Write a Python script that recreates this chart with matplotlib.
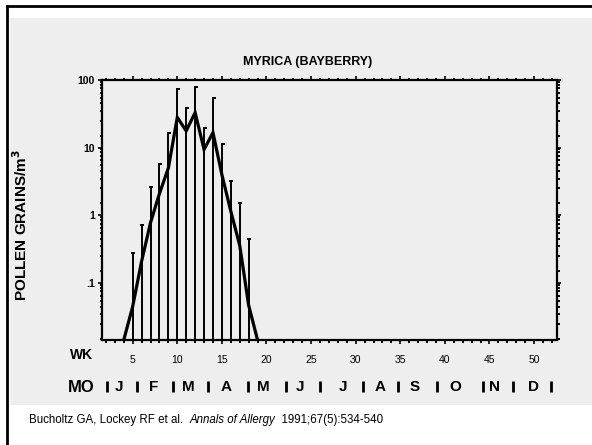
import matplotlib.pyplot as plt
import matplotlib.transforms as mtransforms
import numpy as np
from matplotlib.patches import Rectangle
from matplotlib.ticker import LogLocator, NullFormatter

# weekly pollen counts (grains/m3), week 4 and 19 are zero
weeks = np.arange(4, 20)
mean_count = [0, 0.045, 0.21, 0.78, 2.1, 5.0, 28, 17.7, 33, 9.4, 16.7, 4.0, 1.15, 0.36, 0.047, 0]
upper_count = [0, 0.28, 0.71, 2.6, 5.8, 16.7, 73, 38, 78, 19.8, 54, 11.5, 3.2, 1.5, 0.44, 0]

week_ticks = np.arange(5, 55, 5)
ytick_vals = [0.1, 1, 10, 100]
ytick_labels = [".1", "1", "10", "100"]

month_letters = ["J", "F", "M", "A", "M", "J", "J", "A", "S", "O", "N", "D"]
month_mid = [3.5, 7.4, 11.2, 15.5, 19.7, 23.8, 28.6, 32.7, 36.6, 41.2, 45.6, 49.9]
month_sep = [2.1, 5.5, 9.5, 13.4, 17.9, 22.2, 26.0, 30.8, 34.7, 39.1, 44.3, 47.6, 51.9]

plt.rcParams["font.family"] = ["Liberation Sans", "DejaVu Sans"]

W, H = 592, 445
fig = plt.figure(figsize=(W / 100, H / 100), dpi=100)
fig.patch.set_facecolor("white")

# scanned page area + frame
fig.patches.append(Rectangle((10 / W, 1 - 405 / H), 1, (405 - 18) / H,
                             transform=fig.transFigure, facecolor="#eeeeee",
                             edgecolor="none", zorder=-5))
fig.add_artist(plt.Line2D([7 / W, 1], [1 - 6 / H, 1 - 6 / H], color="black", lw=2.0))
fig.add_artist(plt.Line2D([7 / W, 7 / W], [0, 1 - 6 / H], color="black", lw=2.0))

ymin, ymax = 0.0144, 100
xmin, xmax = 1.56, 52.57

ax = fig.add_axes([102 / W, 1 - 340 / H, (557 - 102) / W, (340 - 80) / H])
ax.set_zorder(2)
ax.set_facecolor("none")
ax.set_yscale("log")
ax.set_xlim(xmin, xmax)
ax.set_ylim(ymin, ymax)

mean_arr = np.array(mean_count, dtype=float)
upper_arr = np.array(upper_count, dtype=float)
plot_mean = np.where(mean_arr > 0, mean_arr, ymin)
ax.plot(weeks, plot_mean, color="black", lw=2.3, solid_joinstyle="miter", zorder=3)

has = upper_arr > 0
ax.vlines(weeks[has], ymin, upper_arr[has], color="black", lw=1.4, zorder=2)
ax.hlines(upper_arr[has], weeks[has] - 0.15, weeks[has] + 0.3, color="black", lw=1.4, zorder=2)

for s in ax.spines.values():
    s.set_linewidth(1.6)

ax.set_xticks(week_ticks)
ax.set_xticklabels([str(w) for w in week_ticks], fontsize=7.5)
ax.set_xticks(np.arange(2, 53), minor=True)
ax.set_yticks(ytick_vals)
ax.set_yticklabels(ytick_labels, fontsize=7.5, fontweight="bold")
ax.yaxis.set_minor_locator(LogLocator(base=10, subs=np.arange(1.5, 10, 1.0)))
ax.yaxis.set_minor_formatter(NullFormatter())
ax.tick_params(axis="both", which="major", direction="out", length=3, width=1.2,
               top=True, right=True, pad=2)
ax.tick_params(axis="both", which="minor", direction="out", length=1.8, width=1.4,
               top=True, right=True)
ax.tick_params(axis="x", which="major", pad=8)
ax.tick_params(axis="x", which="both", labeltop=False)
ax.tick_params(axis="y", which="both", labelright=False)

fig.text(308 / W, 1 - 62 / H, "MYRICA (BAYBERRY)", ha="center", va="center",
         fontsize=9, fontweight="bold", zorder=3)
fig.text(21 / W, 1 - 225 / H, "POLLEN GRAINS/m$^{\\mathbf{3}}$", ha="center", va="center",
         rotation=90, fontsize=11, fontweight="bold", zorder=3)
fig.text(70 / W, 1 - 355 / H, "WK", ha="left", va="center", fontsize=10,
         fontweight="bold", zorder=3)

# month row
mo_y = 1 - 387 / H
trans = mtransforms.blended_transform_factory(ax.transData, fig.transFigure)
fig.text(68 / W, mo_y, "MO", ha="left", va="center", fontsize=12, fontweight="bold", zorder=3)
for x, lab in zip(month_mid, month_letters):
    ax.text(x, mo_y, lab, transform=trans, ha="center", va="center",
            fontsize=11, fontweight="bold", clip_on=False)
for x in month_sep:
    ax.plot([x, x], [1 - 380.5 / H, 1 - 391.5 / H], transform=trans, color="black",
            lw=2.0, clip_on=False, solid_capstyle="butt")

cite_y = 1 - 420 / H
t1 = fig.text(29 / W, cite_y, "Bucholtz GA, Lockey RF et al.  ", ha="left", va="center",
              fontsize=8.3, zorder=3)
fig.canvas.draw()
r = fig.canvas.get_renderer()
bb = t1.get_window_extent(r)
t2 = fig.text(bb.x1 / W, cite_y, "Annals of Allergy", ha="left", va="center",
              fontsize=8.3, style="italic", zorder=3)
bb2 = t2.get_window_extent(r)
fig.text(bb2.x1 / W, cite_y, "  1991;67(5):534-540", ha="left", va="center",
         fontsize=8.3, zorder=3)

fig.savefig("out.png", dpi=100)
